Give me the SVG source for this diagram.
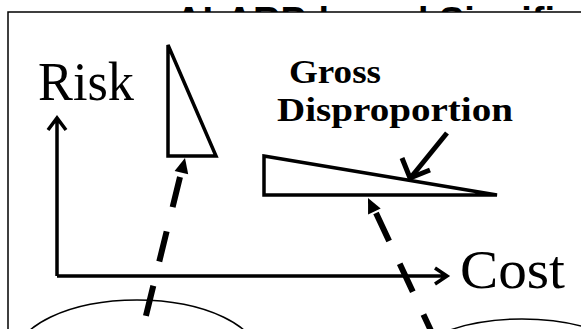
<svg xmlns="http://www.w3.org/2000/svg" width="581" height="329" viewBox="0 0 581 329">
<style>
.title{font-family:"Liberation Sans",Arial,sans-serif;font-weight:bold;font-size:38px;fill:#000}
.big{font-family:"Liberation Serif","Times New Roman",serif;font-size:54px;fill:#000}
.lbl{font-family:"Liberation Serif","Times New Roman",serif;font-weight:bold;font-size:34px;fill:#000}
.shape{fill:#fff;stroke:#000;stroke-width:3.5;stroke-linejoin:miter}
.axis{fill:none;stroke:#000;stroke-width:3.5}
.dash{fill:none;stroke:#000;stroke-width:6;stroke-dasharray:31 25}
.thin{fill:#fff;stroke:#000;stroke-width:1.5}
</style>
<rect width="581" height="329" fill="#fff"/>
<text class="title" x="175" y="34">ALARP-based Significance</text>
<rect x="8" y="12" width="590" height="330" fill="#fff" stroke="#000" stroke-width="1.5"/>
<g id="ellipse-left"><ellipse class="thin" cx="137" cy="358" rx="122" ry="58"/></g>
<g id="ellipse-right"><ellipse class="thin" cx="522" cy="377" rx="122" ry="58"/></g>
<g id="axes">
<path class="axis" d="M57 276 V118 M48 130 L57 118 L66 130"/>
<path class="axis" d="M57 276 H447 M435 268 L447 276 L435 284"/>
</g>
<g id="risk-label"><text class="big" x="38" y="100" textLength="96" lengthAdjust="spacingAndGlyphs">Risk</text></g>
<g id="cost-label"><text class="big" x="460" y="288" textLength="105" lengthAdjust="spacingAndGlyphs">Cost</text></g>
<g id="tri-tall"><path class="shape" d="M168 45 L216 156 H168 Z"/></g>
<g id="tri-flat"><path class="shape" d="M264 156 L497 195 H264 Z"/></g>
<g id="gross-label">
<text class="lbl" x="289" y="83" textLength="92" lengthAdjust="spacingAndGlyphs">Gross</text>
<text class="lbl" x="277" y="121" textLength="236" lengthAdjust="spacingAndGlyphs">Disproportion</text>
</g>
<g id="connectors">
<path fill="none" stroke="#000" stroke-width="5" d="M447 133 L412 176"/>
<path fill="none" stroke="#000" stroke-width="5" d="M402 158 L410 178 L430 170"/>
<path class="dash" d="M180 177 L140 340"/>
<path d="M185 158 L188.2 174.3 L174.6 170.9 Z" fill="#000"/>
<path class="dash" d="M376 213 L440 350"/>
<path d="M368 198 L380.7 208.6 L368.1 214.6 Z" fill="#000"/>
</g>
</svg>
